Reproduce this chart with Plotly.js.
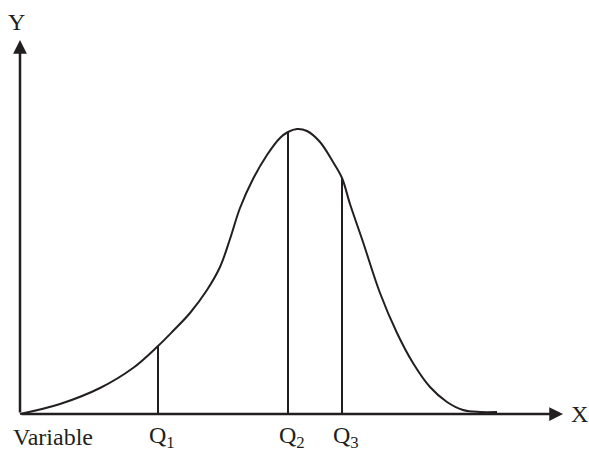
<!DOCTYPE html>
<html>
<head>
<meta charset="utf-8">
<script src="https://cdn.plot.ly/plotly-3.0.1.min.js"></script>
<style>
  html, body { margin: 0; padding: 0; background: #fff; }
  #chart { width: 589px; height: 452px; }
</style>
</head>
<body>
<div id="chart"></div>
<script>
// skewed frequency curve (origin at the axis corner)
const curveX = [0, 40, 80, 113, 138, 153, 170, 187, 200, 210, 220, 233, 247, 260, 268, 277, 287, 300, 313, 322, 330, 343, 360, 377, 393, 410, 427, 443, 460, 477];
const curveY = [0, 10, 26, 46, 68, 83, 101, 124, 147, 175, 206, 235, 259, 276, 282, 285, 283, 272, 252, 236, 210, 172, 121, 81, 51, 27, 12, 4, 2, 2];

const quartileNames = ['Q<sub>1</sub>', 'Q<sub>2</sub>', 'Q<sub>3</sub>'];
const quartileX = [138, 268, 322];
const quartileY = [68, 282, 236];

const axisEnd = { x: 543, y: 374 };

const INK = '#231f20';
const FONT = 'Liberation Serif, serif';

const traces = [{
    x: curveX, y: curveY, mode: 'lines',
    line: { color: INK, width: 2, shape: 'spline', smoothing: 1 },
    hoverinfo: 'skip'
}];
quartileX.forEach((q, i) => {
    traces.push({
        x: [q, q], y: [0, quartileY[i]], mode: 'lines',
        line: { color: INK, width: 2 }, hoverinfo: 'skip'
    });
});

const arrow = (x, y) => ({
    x: x, y: y, ax: 0, ay: 0, axref: 'x', ayref: 'y', xref: 'x', yref: 'y',
    text: '', showarrow: true, arrowhead: 2, arrowsize: 1.1, arrowwidth: 2.5, arrowcolor: INK
});
const label = (x, y, text) => ({
    x: x, y: y, xref: 'x', yref: 'y', text: text, showarrow: false,
    font: { family: FONT, size: 24, color: INK }
});

const annotations = [
    arrow(axisEnd.x, 0),
    arrow(0, axisEnd.y),
    label(-4, 392, 'Y'),
    label(559, 0, 'X'),
    label(33, -23, 'Variable')
];
quartileX.forEach((q, i) => annotations.push(label(q + 4, -23, quartileNames[i])));

const layout = {
    width: 589, height: 452,
    margin: { l: 0, r: 0, t: 0, b: 0 },
    paper_bgcolor: '#fff', plot_bgcolor: '#fff',
    showlegend: false,
    xaxis: { range: [-20, 569], visible: false, fixedrange: true },
    yaxis: { range: [-38, 414], visible: false, fixedrange: true },
    annotations: annotations
};

Plotly.newPlot('chart', traces, layout, { displayModeBar: false, staticPlot: true });
</script>
</body>
</html>
